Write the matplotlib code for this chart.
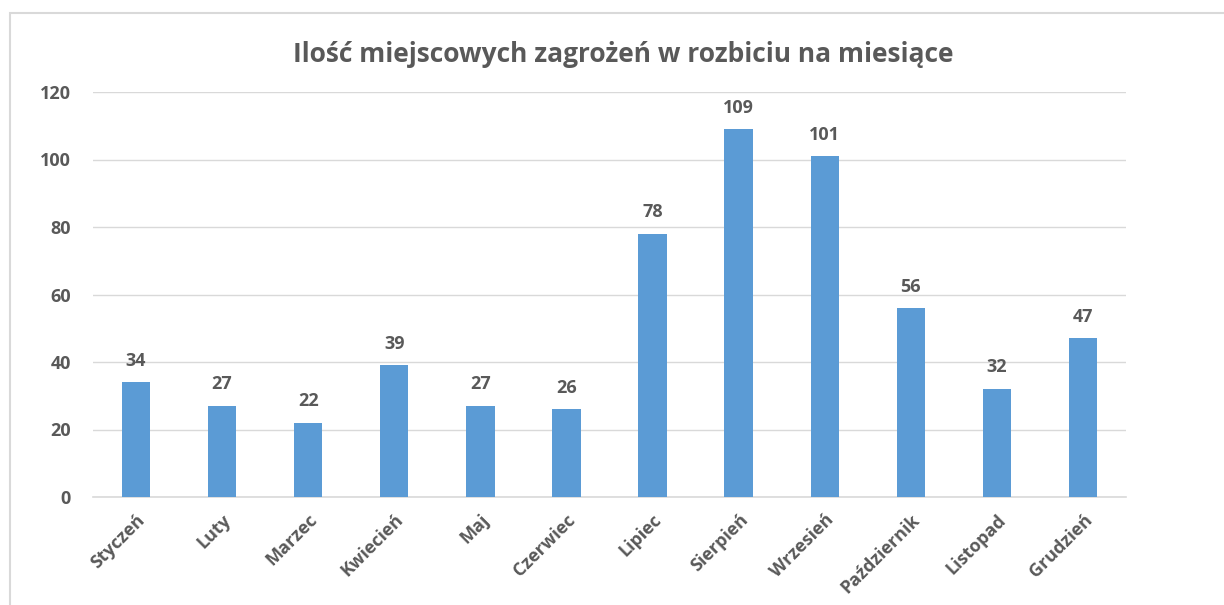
import matplotlib.pyplot as plt
from matplotlib.patches import Rectangle

months = ['Styczeń', 'Luty', 'Marzec', 'Kwiecień', 'Maj', 'Czerwiec',
          'Lipiec', 'Sierpień', 'Wrzesień', 'Październik', 'Listopad', 'Grudzień']
counts = [34, 27, 22, 39, 27, 26, 78, 109, 101, 56, 32, 47]
y_ticks = [0, 20, 40, 60, 80, 100, 120]

text_color = '#595959'
plt.rcParams['font.family'] = ['Open Sans', 'DejaVu Sans']

fig = plt.figure(figsize=(12.24, 6.05), dpi=100)
# ramka wykresu
fig.patches.append(Rectangle((10 / 1224, -0.1), 1.2, 1 - 13 / 605 + 0.1,
                             transform=fig.transFigure, fill=False,
                             edgecolor='#d9d9d9', linewidth=1.5))

ax = fig.add_axes([93 / 1224, 1 - 497 / 605, (1126 - 93) / 1224, (497 - 92) / 605])
x = range(len(months))
bars = ax.bar(x, counts, width=0.33, color='#5b9bd5', zorder=3)

for xi, v in zip(x, counts):
    ax.annotate(str(v), (xi, v), xytext=(0, 9), textcoords='offset points',
                ha='center', va='bottom', fontsize=13, fontweight='bold',
                color=text_color)

ax.set_xlim(-0.5, len(months) - 0.5)
ax.set_ylim(0, 120)
ax.set_yticks(y_ticks)
ax.set_yticklabels([str(t) for t in y_ticks], fontsize=13, fontweight='bold', color=text_color)
ax.set_xticks(list(x))
ax.set_xticklabels(months, rotation=45, ha='right', rotation_mode='anchor',
                   fontsize=13, fontweight='bold', color=text_color)
ax.tick_params(axis='y', length=0, pad=16)
ax.tick_params(axis='x', length=0, pad=10)
ax.grid(axis='y', color='#d9d9d9', linewidth=1, zorder=0)
for s in ['top', 'right', 'left']:
    ax.spines[s].set_visible(False)
ax.spines['bottom'].set_color('#d9d9d9')
ax.spines['bottom'].set_linewidth(1.2)

fig.text(623 / 1224, 1 - 55 / 605, 'Ilość miejscowych zagrożeń w rozbiciu na miesiące',
         ha='center', va='center', fontsize=19, fontweight='bold', color=text_color)

plt.savefig('out.png', dpi=100)
